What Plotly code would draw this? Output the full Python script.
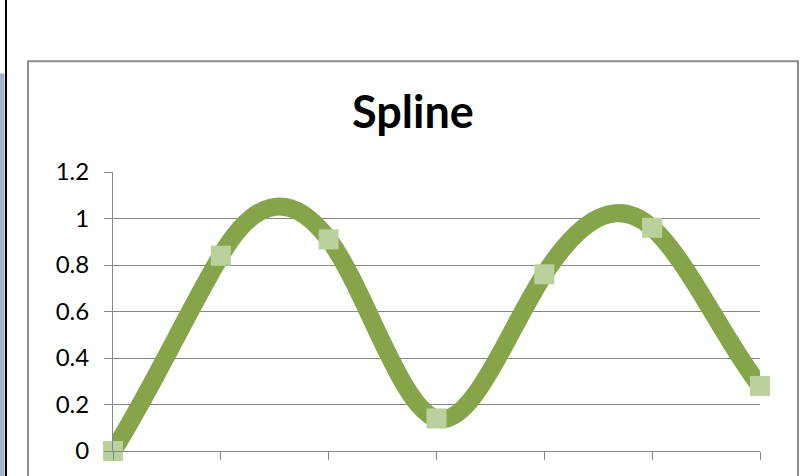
import plotly.graph_objects as go

# Series data
categories = [1, 2, 3, 4, 5, 6, 7]
values = [0, 0.84, 0.91, 0.14, 0.76, 0.96, 0.28]
y_ticks = [0, 0.2, 0.4, 0.6, 0.8, 1, 1.2]
y_tick_labels = ["0", "0.2", "0.4", "0.6", "0.8", "1", "1.2"]

W, H = 812, 476
M_L, M_R, M_T, M_B = 113, 52, 172, 22
PW, PH = W - M_L - M_R, H - M_T - M_B


def px_x(px):
    return (px - M_L) / PW


def px_y(py):
    return (H - M_B - py) / PH


GRAY = "#868686"
LINE_GREEN = "#86A54A"
MARKER_GREEN = "#BBD19D"
FONT = "Lato, Carlito, Calibri, sans-serif"
TENSION = 0.29  # smoothed-line tangent factor


def smooth_path(xs, ys, f):
    """Cubic Hermite/Bezier path through the data points (data coordinates)."""
    n = len(xs)
    parts = [f"M {xs[0]},{ys[0]}"]
    for i in range(n - 1):
        i0, i3 = max(i - 1, 0), min(i + 2, n - 1)
        dx = xs[i + 1] - xs[i]
        c1x = xs[i] + dx / 3
        c2x = xs[i + 1] - dx / 3
        c1y = ys[i] + f * (ys[i + 1] - ys[i0])
        c2y = ys[i + 1] - f * (ys[i3] - ys[i])
        parts.append(f"C {c1x},{c1y} {c2x},{c2y} {xs[i + 1]},{ys[i + 1]}")
    return " ".join(parts)


fig = go.Figure(
    go.Scatter(
        x=categories,
        y=values,
        mode="markers",
        marker=dict(symbol="square", size=20, color=MARKER_GREEN, line=dict(width=0)),
        cliponaxis=False,
        showlegend=False,
    )
)

shapes = [
    # smoothed series line, drawn between the grid and the markers
    dict(type="path", xref="x", yref="y", path=smooth_path(categories, values, TENSION),
         line=dict(color=LINE_GREEN, width=18), fillcolor="rgba(0,0,0,0)", layer="between"),
    # chart frame
    dict(type="rect", xref="paper", yref="paper",
         x0=px_x(28), x1=px_x(798), y0=px_y(485), y1=px_y(60),
         line=dict(color="#8C8C8C", width=2), fillcolor="rgba(0,0,0,0)", layer="below"),
    # left window edge
    dict(type="rect", xref="paper", yref="paper",
         x0=px_x(0), x1=px_x(4.5), y0=px_y(480), y1=px_y(72.5),
         line=dict(width=0), fillcolor="#A3B2CB", layer="below"),
    dict(type="line", xref="paper", yref="paper",
         x0=px_x(6), x1=px_x(6), y0=px_y(480), y1=px_y(-2),
         line=dict(color="#000000", width=2), layer="below"),
]

fig.update_layout(
    width=W,
    height=H,
    margin=dict(l=M_L, r=M_R, t=M_T, b=M_B),
    paper_bgcolor="white",
    plot_bgcolor="white",
    font=dict(family=FONT, color="black", size=24),
    shapes=shapes,
    annotations=[
        dict(text="<b>Spline</b>", xref="paper", yref="paper",
             x=px_x(413), y=px_y(110), xanchor="center", yanchor="middle",
             showarrow=False, font=dict(family=FONT, size=45, color="black"))
    ],
    xaxis=dict(
        range=[categories[0], categories[-1]],
        tickvals=categories,
        showticklabels=False,
        ticks="outside", ticklen=8, tickcolor=GRAY, tickwidth=1,
        showgrid=False, zeroline=False,
        showline=True, linecolor=GRAY, linewidth=1,
    ),
    yaxis=dict(
        range=[0, 1.2],
        tickvals=y_ticks,
        ticktext=y_tick_labels,
        tickfont=dict(size=24),
        ticks="outside", ticklen=8, tickcolor=GRAY, tickwidth=1,
        ticklabelstandoff=10,
        showgrid=True, gridcolor=GRAY, gridwidth=1,
        zeroline=False,
        showline=True, linecolor=GRAY, linewidth=1,
    ),
)

fig.write_html("out.html")
